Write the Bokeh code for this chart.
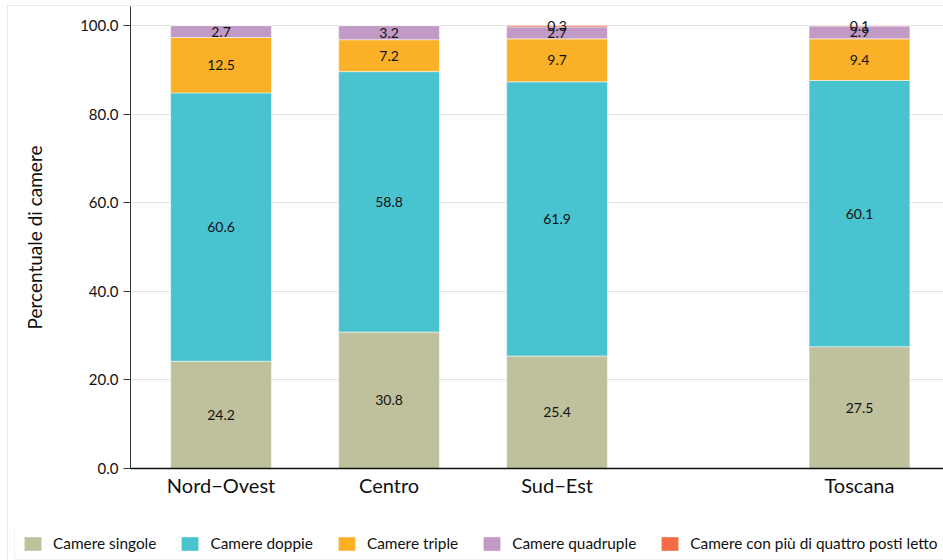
from bokeh.plotting import figure
from bokeh.layouts import column
from bokeh.models import ColumnDataSource, Range1d, FixedTicker, NumeralTickFormatter, Legend, LegendItem
from bokeh.core.properties import value
from bokeh.embed import file_html
from bokeh.resources import INLINE
import numpy as np

# ---- data ----
categories = ["Nord−Ovest", "Centro", "Sud−Est", "Toscana"]
camere_singole = [24.2, 30.8, 25.4, 27.5]
camere_doppie = [60.6, 58.8, 61.9, 60.1]
camere_triple = [12.5, 7.2, 9.7, 9.4]
camere_quadruple = [2.7, 3.2, 2.7, 2.9]
camere_piu = [0.0, 0.0, 0.3, 0.1]
series_names = ["Camere singole", "Camere doppie", "Camere triple",
                "Camere quadruple", "Camere con più di quattro posti letto"]
y_ticks = [0, 20, 40, 60, 80, 100]

# ---- layout / style ----
x_pos = [1, 2, 3, 4.8]
colors = ["#BFC19D", "#4AC3D0", "#FBB127", "#C29AC6", "#F26D44"]
FONT = "Lato"
W = 935

series = [camere_singole, camere_doppie, camere_triple, camere_quadruple, camere_piu]
keys = ["s0", "s1", "s2", "s3", "s4"]
data = {"x": x_pos}
for k, s in zip(keys, series):
    data[k] = s
source = ColumnDataSource(data)

p = figure(width=W, height=522, output_backend="svg", toolbar_location=None,
           x_range=Range1d(0.461, 5.30), y_range=Range1d(0, 104.3),
           min_border_left=122, min_border_right=0, min_border_top=0,
           min_border_bottom=60)
p.frame_align = False
p.outline_line_color = None
p.background_fill_color = "white"
p.border_fill_color = "white"

renderers = p.vbar_stack(keys, x="x", width=0.6, color=colors, source=source,
                         line_color="white", line_alpha=0.5, line_width=1)

# segment labels
lx, ly, lt = [], [], []
cum = np.zeros(len(x_pos))
for s in series:
    arr = np.array(s, dtype=float)
    for i, v in enumerate(arr):
        if v > 0:
            lx.append(x_pos[i])
            ly.append(cum[i] + v / 2)
            lt.append(f"{v:.1f}")
    cum += arr
p.text(x=lx, y=ly, text=lt, text_align="center", text_baseline="middle",
       text_font=value(FONT), text_font_size="14px", text_color="#111111")

# axes
p.xgrid.grid_line_color = None
p.ygrid.grid_line_color = "#e3e3e3"
p.ygrid.ticker = FixedTicker(ticks=y_ticks)

xa = p.xaxis[0]
xa.ticker = FixedTicker(ticks=x_pos)
xa.major_label_overrides = {x: c for x, c in zip(x_pos, categories)}
xa.major_tick_in = 0
xa.major_tick_out = 0
xa.minor_tick_line_color = None
xa.axis_line_color = "#111111"
xa.axis_line_width = 1.5
xa.major_label_text_font = FONT
xa.major_label_text_font_size = "20px"
xa.major_label_text_color = "#111111"
xa.major_label_standoff = 4

ya = p.yaxis[0]
ya.ticker = FixedTicker(ticks=y_ticks)
ya.formatter = NumeralTickFormatter(format="0.0")
ya.major_tick_in = 0
ya.major_tick_out = 7
ya.minor_tick_line_color = None
ya.axis_line_color = "#333333"
ya.major_tick_line_color = "#333333"
ya.major_label_text_font = FONT
ya.major_label_text_font_size = "15px"
ya.major_label_text_color = "#111111"
ya.major_label_standoff = 5
ya.axis_label = "Percentuale di camere"
ya.axis_label_text_font = FONT
ya.axis_label_text_font_size = "19px"
ya.axis_label_text_font_style = "normal"
ya.axis_label_text_color = "#111111"
ya.axis_label_standoff = 31

# legend strip (swatch renderers: zero-height bars from the same data, nothing visible)
pl = figure(width=W, height=32, output_backend="svg", toolbar_location=None,
            x_range=Range1d(100, 101), y_range=Range1d(1000, 1001),
            x_axis_type=None, y_axis_type=None,
            min_border_left=0, min_border_right=0, min_border_top=0, min_border_bottom=0)
pl.frame_align = False
pl.outline_line_color = None
pl.xgrid.grid_line_color = None
pl.ygrid.grid_line_color = None
pl.border_fill_color = "white"
swatches = [pl.vbar(x="x", top=k, bottom=k, width=0.6, fill_color=c, line_color=None, source=source)
            for k, c in zip(keys, colors)]

legend = Legend(items=[LegendItem(label=n, renderers=[r]) for n, r in zip(series_names, swatches)],
                orientation="horizontal", location=(6, 0))
legend.label_text_font = FONT
legend.label_text_font_size = "15.4px"
legend.label_text_color = "#111111"
legend.glyph_width = 21
legend.glyph_height = 17
legend.label_standoff = 10
legend.spacing = 23
legend.padding = 7
legend.margin = 0
legend.border_line_color = "#dceaec"
legend.border_line_width = 1.5
legend.background_fill_color = "white"
legend.background_fill_alpha = 1
pl.add_layout(legend)

layout = column(p, pl, spacing=0,
                styles={"margin-left": "7px", "margin-top": "5px",
                        "border-left": "1px solid #e3eded",
                        "border-top": "1px solid #e3eded"})
open("out.html", "w").write(file_html(layout, INLINE))
